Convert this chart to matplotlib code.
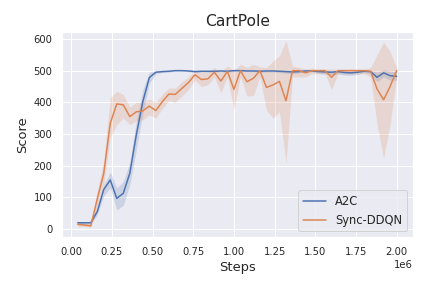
import numpy as np
import matplotlib
matplotlib.use("Agg")
import matplotlib.pyplot as plt
import seaborn as sns

sns.set_theme(style="darkgrid")

steps = [0.04 * i for i in range(1, 51)]  # in units of 1e6

a2c_mean = [20, 20, 20, 55, 125, 155, 97, 113, 176, 297,
            402, 478, 495, 497, 498, 500, 500, 499, 497, 498,
            498, 498, 499, 498, 500, 500, 499, 499, 498, 499,
            499, 498, 497, 496, 497, 499, 499, 497, 496, 495,
            497, 494, 493, 495, 498, 497, 479, 493, 484, 482]
a2c_lo = [14, 15, 15, 45, 105, 130, 60, 75, 140, 250,
          365, 460, 490, 494, 496, 498, 498, 497, 494, 496,
          495, 496, 497, 495, 498, 498, 497, 497, 495, 496,
          496, 494, 492, 490, 493, 496, 496, 492, 489, 487,
          490, 486, 485, 488, 494, 490, 465, 480, 470, 470]
a2c_hi = [24, 24, 24, 65, 140, 180, 130, 150, 210, 340,
          440, 495, 499, 500, 500, 501, 501, 501, 500, 500,
          500, 500, 501, 500, 501, 501, 501, 501, 500, 501,
          501, 500, 500, 500, 500, 501, 501, 500, 500, 500,
          501, 500, 499, 500, 501, 501, 495, 503, 498, 496]

ddqn_mean = [15, 13, 10, 95, 176, 334, 395, 392, 355, 370,
             373, 388, 374, 402, 426, 425, 444, 462, 487, 472,
             474, 495, 467, 498, 441, 500, 465, 476, 500, 447,
             455, 466, 405, 500, 500, 493, 500, 500, 500, 479,
             500, 500, 500, 500, 500, 498, 442, 408, 450, 500]
ddqn_lo = [8, 8, 6, 70, 140, 290, 330, 350, 330, 340,
           345, 360, 350, 380, 405, 400, 420, 440, 470, 450,
           455, 480, 430, 480, 376, 480, 420, 421, 480, 375,
           350, 370, 207, 480, 480, 480, 490, 490, 490, 440,
           490, 490, 490, 490, 490, 480, 330, 223, 330, 480]
ddqn_hi = [22, 18, 14, 120, 215, 415, 435, 425, 385, 400,
           400, 410, 400, 425, 445, 445, 465, 480, 500, 495,
           495, 510, 495, 515, 500, 520, 510, 520, 512, 510,
           530, 547, 595, 515, 510, 505, 508, 505, 505, 505,
           505, 505, 505, 505, 505, 510, 550, 590, 560, 510]

fig, ax = plt.subplots(figsize=(6, 4), dpi=72)
colors = sns.color_palette("deep")

x = np.array(steps) * 1e6
ax.plot(x, a2c_mean, color=colors[0], label="A2C", lw=1.5)
ax.fill_between(x, a2c_lo, a2c_hi, color=colors[0], alpha=0.2, lw=0)
ax.plot(x, ddqn_mean, color=colors[1], label="Sync-DDQN", lw=1.5)
ax.fill_between(x, ddqn_lo, ddqn_hi, color=colors[1], alpha=0.2, lw=0)

ax.set_ylim(-25, 622)
ax.set_title("CartPole", fontsize=15.5)
ax.set_xlabel("Steps", fontsize=13)
ax.set_ylabel("Score", fontsize=13)
ax.tick_params(labelsize=10)
ax.xaxis.get_offset_text().set_fontsize(10)
ax.legend(loc="lower right", fontsize=11.5)

plt.subplots_adjust(left=0.143, right=0.955, top=0.889, bottom=0.177)
plt.savefig("out.png")
plt.close()
